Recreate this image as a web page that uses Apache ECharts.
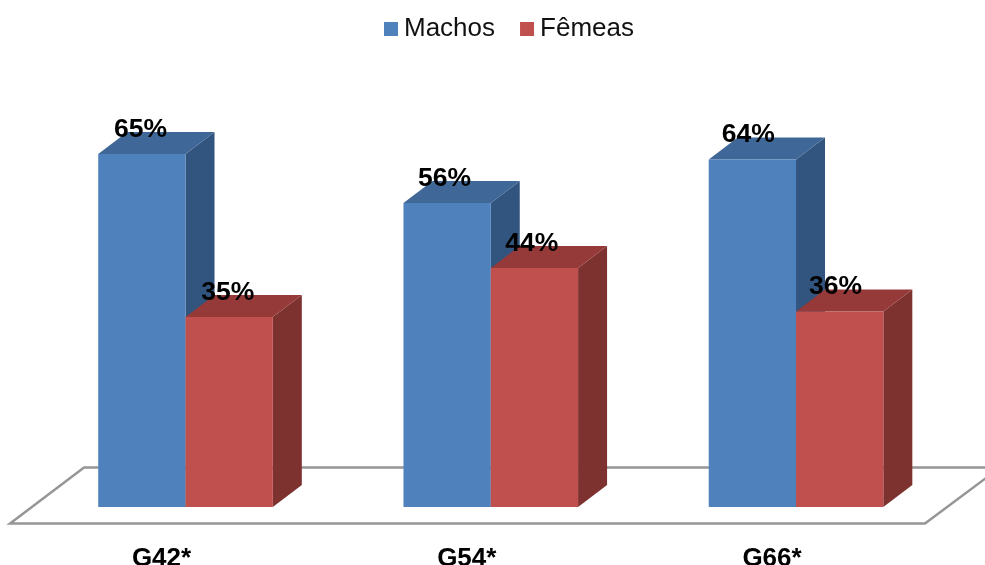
<!DOCTYPE html>
<html>
<head>
<meta charset="utf-8">
<style>html,body{margin:0;padding:0;background:#fff}#chart{width:985px;height:565px}</style>
<script src="https://cdn.jsdelivr.net/npm/echarts@6/dist/echarts.min.js"></script>
</head>
<body>
<div id="chart"></div>
<script>
const categories = ['G42*', 'G54*', 'G66*'];
const machos = [65, 56, 64];
const femeas = [35, 44, 36];

const FONT = '"Liberation Sans", Arial, sans-serif';
const DEPTH_X = 29, DEPTH_Y = 22;      // oblique offset of a bar's back face
const BAR_FRACTION = 0.286;            // bar width as a share of the category band

// Draws one oblique box; side = -1 puts it left of the band centre, side = 0 right of it.
function boxRenderer(side, front, top, wall) {
  return function (params, api) {
    const band = api.size([1, 0])[0];
    const w = band * BAR_FRACTION;
    const base = api.coord([api.value(0), 0]);
    const head = api.coord([api.value(0), api.value(1)]);
    const x0 = base[0] + side * w, x1 = x0 + w;
    const y0 = head[1], y1 = base[1];
    const dx = DEPTH_X, dy = DEPTH_Y;
    return {
      type: 'group',
      children: [
        { type: 'polygon', shape: { points: [[x1, y0], [x1 + dx, y0 - dy], [x1 + dx, y1 - dy], [x1, y1]] }, style: { fill: wall } },
        { type: 'polygon', shape: { points: [[x0, y0], [x0 + dx, y0 - dy], [x1 + dx, y0 - dy], [x1, y0]] }, style: { fill: top } },
        { type: 'rect', shape: { x: x0, y: y0, width: w, height: y1 - y0 }, style: { fill: front } },
        { type: 'text', z2: 50, style: {
            text: api.value(1) + '%', x: (x0 + x1) / 2 - 1.3 - 1.4 * params.dataIndex, y: y0 - 24.5,
            textAlign: 'center', textVerticalAlign: 'middle',
            font: 'bold 26.5px ' + FONT, fill: '#000'
        } }
      ]
    };
  };
}

// The floor plane under the bars, an outlined parallelogram tied to the plot area.
function floorRenderer(params, api) {
  const r = params.coordSys;
  const baseY = r.y + r.height;
  const points = [
    [r.x - 22.85, baseY + 16.5],
    [r.x + r.width - 23.65, baseY + 16.5],
    [r.x + r.width + 51.35, baseY - 39.5],
    [r.x + 51.15, baseY - 39.5]
  ];
  return {
    type: 'polygon',
    shape: { points: points },
    style: { fill: 'none', stroke: '#969696', lineWidth: 2.5 }
  };
}

const chart = echarts.init(document.getElementById('chart'), null, { renderer: 'canvas' });
chart.setOption({
  animation: false,
  backgroundColor: '#fff',
  legend: {
    data: ['Machos', 'Fêmeas'],
    left: 379, top: 11,
    icon: 'rect', itemWidth: 14, itemHeight: 14, itemGap: 25,
    textStyle: { fontFamily: FONT, fontSize: 26, color: '#111', padding: [4, 0, 0, 1] }
  },
  grid: { left: 32.9, right: 36.35, top: 126.9, bottom: 58, outerBoundsMode: 'none' },
  xAxis: {
    type: 'category',
    data: categories,
    axisLine: { show: false },
    axisTick: { show: false },
    axisLabel: {
      margin: 38.5,
      fontFamily: FONT, fontSize: 26, fontWeight: 'bold', color: '#000',
      padding: [0, 48, 0, 0]
    }
  },
  yAxis: { type: 'value', min: 0, max: 70, show: false },
  series: [
    {
      type: 'custom', name: 'floor', z: 1, silent: true, clip: false,
      data: [[0, 0]], encode: { x: 0, y: 1 },
      renderItem: floorRenderer
    },
    {
      type: 'custom', name: 'Machos', z: 2, clip: false,
      itemStyle: { color: '#4F81BD' },
      data: machos.map((v, i) => [i, v]), encode: { x: 0, y: 1 },
      renderItem: boxRenderer(-1, '#4F81BD', '#3F6797', '#32557F')
    },
    {
      type: 'custom', name: 'Fêmeas', z: 3, clip: false,
      itemStyle: { color: '#C0504D' },
      data: femeas.map((v, i) => [i, v]), encode: { x: 0, y: 1 },
      renderItem: boxRenderer(0, '#C0504D', '#953A38', '#7D3230')
    }
  ]
});
</script>
</body>
</html>
